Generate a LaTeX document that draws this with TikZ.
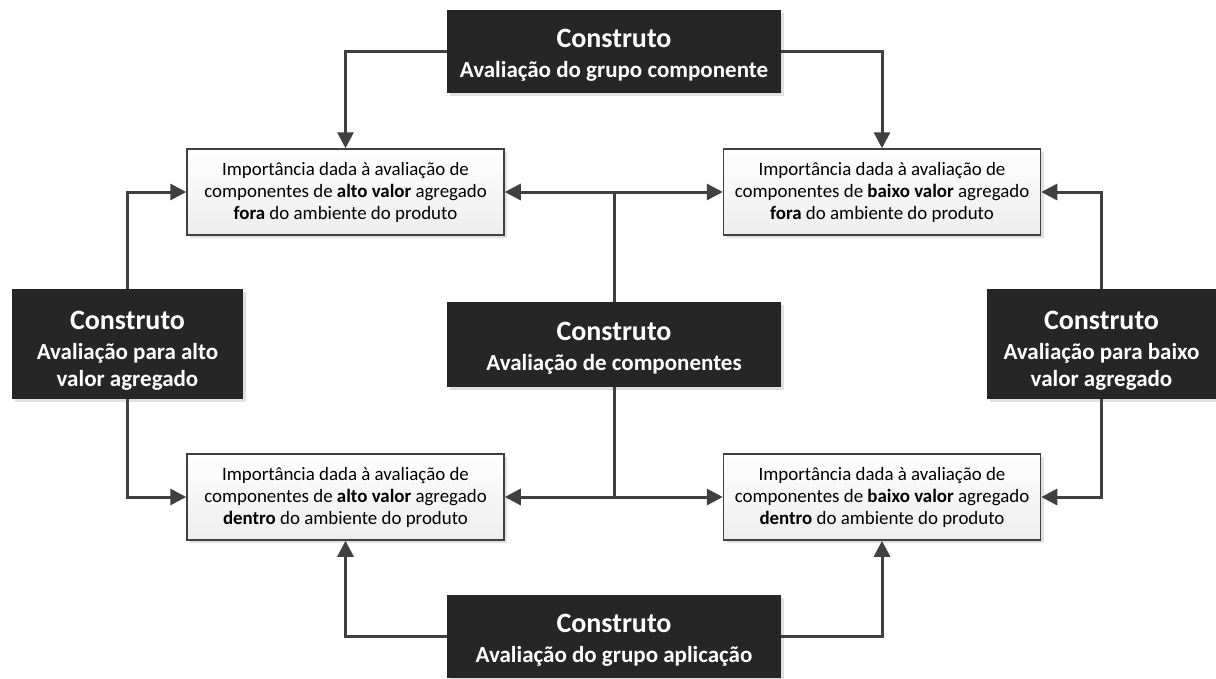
\documentclass[tikz,border=0pt]{standalone}
\usepackage{fontspec}
\setmainfont{Carlito}
\usetikzlibrary{arrows.meta,shadows}
\definecolor{linegray}{HTML}{404040}
\definecolor{darkbox}{HTML}{262626}
\tikzset{
  construct/.style={fill=darkbox, draw=none, text=white, align=center,
    inner sep=0pt, font=\bfseries\fontsize{23}{27}\selectfont,
    drop shadow={shadow xshift=3pt, shadow yshift=-3pt, fill=black, opacity=0.12}},
  item/.style={draw=linegray, line width=1.5pt, top color=white, bottom color=black!7,
    align=center, inner sep=0pt, font=\fontsize{18.9}{22}\selectfont,
    minimum width=317pt, minimum height=86pt,
    drop shadow={shadow xshift=3pt, shadow yshift=-3pt, fill=black, opacity=0.12}},
  link/.style={draw=linegray, line width=3pt},
  tip/.style={-{Triangle[length=16pt,width=16pt]}},
  both/.style={{Triangle[length=16pt,width=16pt]}-{Triangle[length=16pt,width=16pt]}},
}
% title line of a construct; the strut sets the headroom above it
\newcommand{\ttl}[2][26pt]{{\fontsize{28}{28}\selectfont\rule{0pt}{#1}#2}}
\begin{document}
\begin{tikzpicture}[x=1pt,y=-1pt]
  \useasboundingbox[fill=white] (0,0) rectangle (1216,678);

  % constructs
  \node[construct, minimum width=334pt, minimum height=83pt] (top) at (614,51.5)
    {\ttl{Construto}\\[3pt]Avaliação do grupo componente};
  \node[construct, minimum width=334pt, minimum height=85pt] (ctr) at (614,344.5)
    {\ttl{Construto}\\[3pt]Avaliação de componentes};
  \node[construct, minimum width=334pt, minimum height=83pt] (bot) at (614,636.5)
    {\ttl{Construto}\\[3pt]Avaliação do grupo aplicação};
  \node[construct, minimum width=231pt, minimum height=110pt] (lft) at (127.5,344)
    {\ttl[31pt]{Construto}\\[3pt]Avaliação para alto\\valor agregado};
  \node[construct, minimum width=229pt, minimum height=110pt] (rgt) at (1101.5,344)
    {\ttl[31pt]{Construto}\\[3pt]Avaliação para baixo\\valor agregado};

  % evaluation items
  \node[item] (tl) at (345.5,192)
    {Importância dada à avaliação de\\componentes de \textbf{alto valor} agregado\\\textbf{fora} do ambiente do produto};
  \node[item] (tr) at (882,192)
    {Importância dada à avaliação de\\componentes de \textbf{baixo valor} agregado\\\textbf{fora} do ambiente do produto};
  \node[item] (bl) at (345.5,497)
    {Importância dada à avaliação de\\componentes de \textbf{alto valor} agregado\\\textbf{dentro} do ambiente do produto};
  \node[item] (br) at (882,497)
    {Importância dada à avaliação de\\componentes de \textbf{baixo valor} agregado\\\textbf{dentro} do ambiente do produto};

  % junctions on the central spine
  \coordinate (jt) at (ctr.north |- tl.east);
  \coordinate (jb) at (ctr.south |- bl.east);

  % connectors
  \draw[link, tip] (top.west) -| (tl.north);
  \draw[link, tip] (top.east) -| (tr.north);
  \draw[link, tip] (bot.west) -| (bl.south);
  \draw[link, tip] (bot.east) -| (br.south);
  \draw[link, tip] (lft.north) |- (tl.west);
  \draw[link, tip] (lft.south) |- (bl.west);
  \draw[link, tip] (rgt.north) |- (tr.east);
  \draw[link, tip] (rgt.south) |- (br.east);
  \draw[link] (ctr.north) -- (jt);
  \draw[link] (ctr.south) -- (jb);
  \draw[link, both] (tl.east) -- (tr.west);
  \draw[link, both] (bl.east) -- (br.west);
\end{tikzpicture}
\end{document}
